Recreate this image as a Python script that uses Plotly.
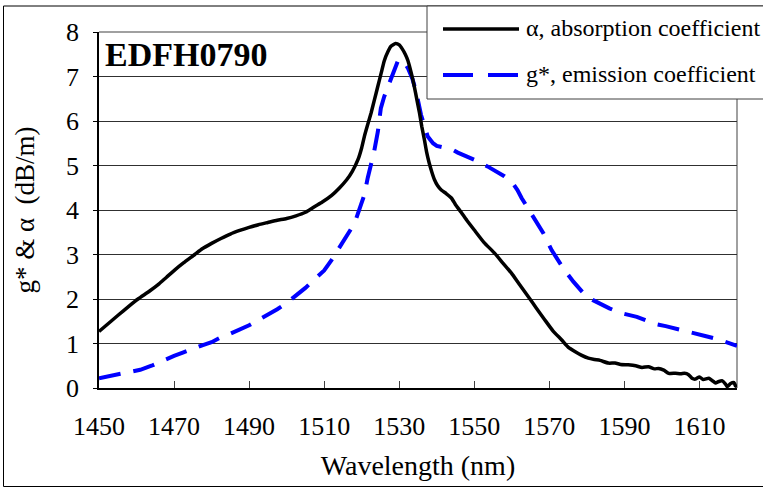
import plotly.graph_objects as go

# ---- data ----
wl_alpha = [1450, 1452.5, 1455, 1458, 1460.4, 1463.5, 1466, 1468, 1470.3, 1472.5, 1475.5, 1477.5,
            1480, 1482.5, 1485, 1487.5, 1490, 1492.5, 1495, 1497.5, 1500, 1502.5, 1505, 1507.5,
            1509.5, 1512, 1514, 1516, 1517.5, 1519, 1520, 1520.7, 1521.6, 1522.5, 1523.4, 1524.3,
            1525.2, 1526, 1527, 1527.8, 1529, 1530, 1530.8, 1531.6, 1532.3, 1533.2, 1534, 1534.7,
            1535.4, 1536, 1536.7, 1537.3, 1538, 1538.7, 1539.4, 1540.2, 1541.2, 1542.5, 1543.9,
            1545, 1546.5, 1548, 1550, 1552.5, 1555.4, 1557.5, 1559.9, 1562, 1564.4, 1566.5, 1568.8,
            1571, 1573.3, 1575, 1576.8, 1578.5, 1580.4, 1582, 1583.5, 1585.7, 1587.5, 1589, 1591,
            1593, 1594.7, 1596.4, 1598, 1599.1, 1600.5, 1601.8, 1603.6, 1605, 1606, 1607.1, 1608,
            1608.9, 1610, 1611, 1612.5, 1613.5, 1614.3, 1615, 1616.1, 1617, 1617.4, 1618.3, 1619.2,
            1619.6, 1620]
alpha = [1.27, 1.45, 1.63, 1.84, 2.00, 2.18, 2.34, 2.49, 2.66, 2.81, 3.00, 3.13,
         3.25, 3.36, 3.46, 3.54, 3.61, 3.67, 3.72, 3.77, 3.81, 3.87, 3.95, 4.08,
         4.18, 4.33, 4.49, 4.68, 4.87, 5.13, 5.40, 5.65, 5.92, 6.18, 6.48, 6.78,
         7.08, 7.35, 7.56, 7.68, 7.74, 7.71, 7.62, 7.50, 7.36, 7.08, 6.78, 6.48,
         6.18, 5.88, 5.58, 5.30, 5.05, 4.85, 4.68, 4.55, 4.45, 4.37, 4.27,
         4.12, 3.95, 3.77, 3.55, 3.28, 3.03, 2.82, 2.58, 2.33, 2.05, 1.80, 1.53,
         1.28, 1.08, 0.92, 0.82, 0.74, 0.67, 0.64, 0.62, 0.56, 0.56, 0.53, 0.52,
         0.50, 0.46, 0.48, 0.43, 0.44, 0.40, 0.33, 0.33, 0.32, 0.33, 0.30, 0.22,
         0.20, 0.25, 0.19, 0.22, 0.16, 0.11, 0.14, 0.16, 0.08, 0.03, 0.10, 0.12,
         0.05, 0.03]

wl_gain = [1450, 1453, 1456, 1459, 1461, 1464, 1466, 1468, 1470, 1472.5, 1475, 1477.5, 1480,
           1482.5, 1485, 1487.5, 1490, 1492.5, 1495, 1497.5, 1500, 1502.5, 1505, 1507.5, 1510,
           1512, 1514, 1516, 1517.5, 1518.5, 1519.5, 1520.7, 1521.6, 1522.5, 1523.3, 1524.3,
           1525.1, 1526, 1527, 1528.3, 1529.6, 1530.8, 1532.3, 1533.5, 1534.5, 1535.8, 1536.7,
           1537.6, 1539, 1540, 1541.6, 1543.9, 1545.6, 1547, 1549, 1551, 1553.5, 1555.9, 1558,
           1559.9, 1561.5, 1562.6, 1564.8, 1566.5, 1568.4, 1570.6, 1572, 1573.7, 1576.4, 1579.5,
           1581.5, 1583.5, 1586, 1588.8, 1591, 1593.3, 1596, 1598.7, 1601, 1603.6, 1606.5,
           1609.4, 1611.5, 1613.8, 1616.5, 1619.2, 1620]
gain = [0.22, 0.27, 0.31, 0.37, 0.41, 0.50, 0.58, 0.66, 0.72, 0.80, 0.89, 0.96, 1.03,
        1.14, 1.22, 1.31, 1.41, 1.53, 1.64, 1.77, 1.91, 2.08, 2.25, 2.45, 2.64,
        2.88, 3.14, 3.40, 3.62, 3.80, 4.05, 4.34, 4.72, 5.02, 5.31, 5.76,
        6.29, 6.55, 6.78, 7.10, 7.34, 7.38, 7.19, 6.95, 6.66, 6.14, 5.90,
        5.65, 5.50, 5.44, 5.41, 5.37, 5.29, 5.24, 5.16, 5.09, 4.98, 4.87, 4.76,
        4.64, 4.45, 4.27, 3.97, 3.74, 3.48, 3.10, 2.90, 2.69, 2.39, 2.09,
        1.98, 1.89, 1.79, 1.69, 1.65, 1.60, 1.51, 1.43, 1.39, 1.34, 1.27,
        1.21, 1.17, 1.12, 1.05, 0.97, 0.95]

x_ticks = [1450, 1470, 1490, 1510, 1530, 1550, 1570, 1590, 1610]
y_ticks = [0, 1, 2, 3, 4, 5, 6, 7, 8]
name_alpha = "α, absorption coefficient"
name_gain = "g*, emission coefficient"
chart_label = "EDFH0790"

FONT = "Liberation Serif"
W, H = 763, 488
L, R, T, B = 99, 26, 32, 100
pw, ph = W - L - R, H - T - B


def px(xp):  # pixel -> paper x
    return (xp - L) / pw


def py(yp):  # pixel -> paper y
    return (H - B - yp) / ph


fig = go.Figure()
fig.add_trace(go.Scatter(x=wl_gain, y=gain, mode="lines", name=name_gain,
                         line=dict(color="#0000FF", width=4, dash="22px,13px"),
                         showlegend=False))
fig.add_trace(go.Scatter(x=wl_alpha, y=alpha, mode="lines", name=name_alpha,
                         line=dict(color="#000000", width=3.5, shape="spline", smoothing=0.5),
                         showlegend=False))

shapes = []
# outer chart border
shapes.append(dict(type="rect", xref="paper", yref="paper", x0=px(3.5), x1=px(775),
                   y0=py(486.5), y1=py(6), line=dict(color="black", width=1), layer="below"))
# plot area top & right (grey)
shapes.append(dict(type="line", xref="paper", yref="paper", x0=0, x1=1, y0=1, y1=1,
                   line=dict(color="#808080", width=1.5), layer="below"))
shapes.append(dict(type="line", xref="paper", yref="paper", x0=1, x1=1, y0=0, y1=1,
                   line=dict(color="#808080", width=1.5), layer="below"))
# legend box
shapes.append(dict(type="rect", xref="paper", yref="paper", x0=px(427), x1=px(775),
                   y0=py(99), y1=py(6), line=dict(color="#404040", width=1),
                   fillcolor="white", layer="above"))
# legend samples
shapes.append(dict(type="line", xref="paper", yref="paper", x0=px(443), x1=px(519),
                   y0=py(29), y1=py(29), line=dict(color="black", width=3.5), layer="above"))
shapes.append(dict(type="line", xref="paper", yref="paper", x0=px(443), x1=px(473),
                   y0=py(75), y1=py(75), line=dict(color="#0000FF", width=4), layer="above"))
shapes.append(dict(type="line", xref="paper", yref="paper", x0=px(488), x1=px(518),
                   y0=py(75), y1=py(75), line=dict(color="#0000FF", width=4), layer="above"))

annotations = [
    dict(text=name_alpha, xref="paper", yref="paper", x=px(524), y=py(28),
         xanchor="left", yanchor="middle", showarrow=False,
         font=dict(family=FONT, size=24, color="black")),
    dict(text=name_gain, xref="paper", yref="paper", x=px(524), y=py(74),
         xanchor="left", yanchor="middle", showarrow=False,
         font=dict(family=FONT, size=24, color="black")),
    dict(text="<b>" + chart_label + "</b>", xref="paper", yref="paper", x=px(103), y=py(54),
         xanchor="left", yanchor="middle", showarrow=False,
         font=dict(family=FONT, size=34, color="black")),
]

fig.update_layout(
    width=W, height=H, autosize=False,
    margin=dict(l=L, r=R, t=T, b=B, pad=0),
    paper_bgcolor="white", plot_bgcolor="white",
    font=dict(family=FONT, size=26, color="black"),
    showlegend=False,
    shapes=shapes, annotations=annotations,
    xaxis=dict(range=[1450, 1620], tickvals=x_ticks, ticktext=[str(v) for v in x_ticks],
               showgrid=False, zeroline=False, showline=True, linecolor="black", linewidth=2,
               ticks="inside", ticklen=7, tickcolor="#404040", tickwidth=1,
               tickfont=dict(family=FONT, size=26), ticklabelstandoff=14,
               title=dict(text="Wavelength (nm)", font=dict(family=FONT, size=28), standoff=15),
               automargin=False),
    yaxis=dict(range=[0, 8], tickvals=y_ticks, showgrid=True, gridcolor="#303030", gridwidth=1,
               zeroline=False, showline=True, linecolor="black", linewidth=1.5,
               ticks="outside", ticklen=4, tickcolor="black", tickwidth=1,
               tickfont=dict(family=FONT, size=26), ticklabelstandoff=9,
               title=dict(text="g* & α  (dB/m)", font=dict(family=FONT, size=27), standoff=24),
               automargin=False),
)

fig.write_html("out.html", config={"displayModeBar": False},
               post_script="document.body.style.margin='0';document.body.style.padding='0';")
